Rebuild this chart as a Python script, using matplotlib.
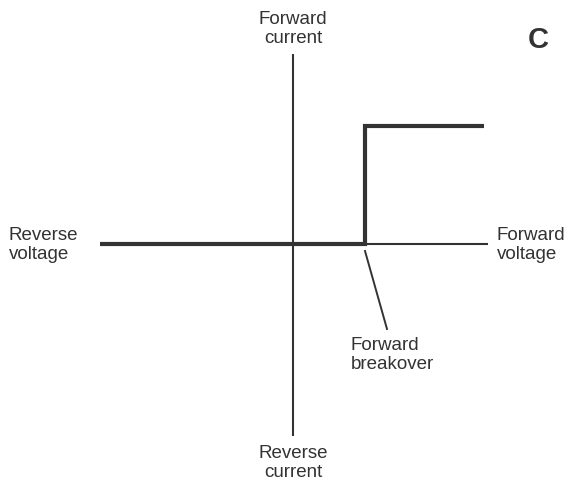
import matplotlib
matplotlib.use("Agg")
import matplotlib.pyplot as plt

# Characteristic curve (arbitrary units, origin at axis crossing)
voltage = [-193, 72, 72, 191]
current = [0, 0, 118, 118]

# Axis extents
h_axis_x = [-193, 195]
v_axis_y = [190, -192]

# Annotation
breakover_point = (72, -7)
breakover_label_end = (94, -85)

labels = {
    "fwd_current": "Forward\ncurrent",
    "rev_current": "Reverse\ncurrent",
    "rev_voltage": "Reverse\nvoltage",
    "fwd_voltage": "Forward\nvoltage",
    "breakover": "Forward\nbreakover",
    "panel": "C",
}

col = "#333333"
plt.rcParams['font.family'] = ['Liberation Sans', 'DejaVu Sans']

fig = plt.figure(figsize=(5.68, 4.85), dpi=100)
ax = fig.add_axes([0, 0, 1, 1])
ax.set_xlim(-293, 275)
ax.set_ylim(-240, 245)
ax.axis("off")

ax.plot(h_axis_x, [0, 0], color=col, lw=1.5, solid_capstyle="butt")
ax.plot([0, 0], v_axis_y, color=col, lw=1.5, solid_capstyle="butt")
ax.plot(voltage, current, color=col, lw=3.0, solid_joinstyle="miter", solid_capstyle="butt")
ax.plot([breakover_point[0], breakover_label_end[0]],
        [breakover_point[1], breakover_label_end[1]], color=col, lw=1.4)

fs = 13.5
ls = 1.15
ax.text(0, 216, labels["fwd_current"], ha="center", va="center", fontsize=fs, color=col, linespacing=ls)
ax.text(0, -218, labels["rev_current"], ha="center", va="center", fontsize=fs, color=col, linespacing=ls)
ax.text(-284, 0, labels["rev_voltage"], ha="left", va="center", fontsize=fs, color=col, linespacing=ls)
ax.text(204, 0, labels["fwd_voltage"], ha="left", va="center", fontsize=fs, color=col, linespacing=ls)
ax.text(58, -110, labels["breakover"], ha="left", va="center", fontsize=fs, color=col, linespacing=ls)
ax.text(245, 205, labels["panel"], ha="center", va="center", fontsize=21, fontweight="bold", color=col)

fig.savefig("out.png", dpi=100)
